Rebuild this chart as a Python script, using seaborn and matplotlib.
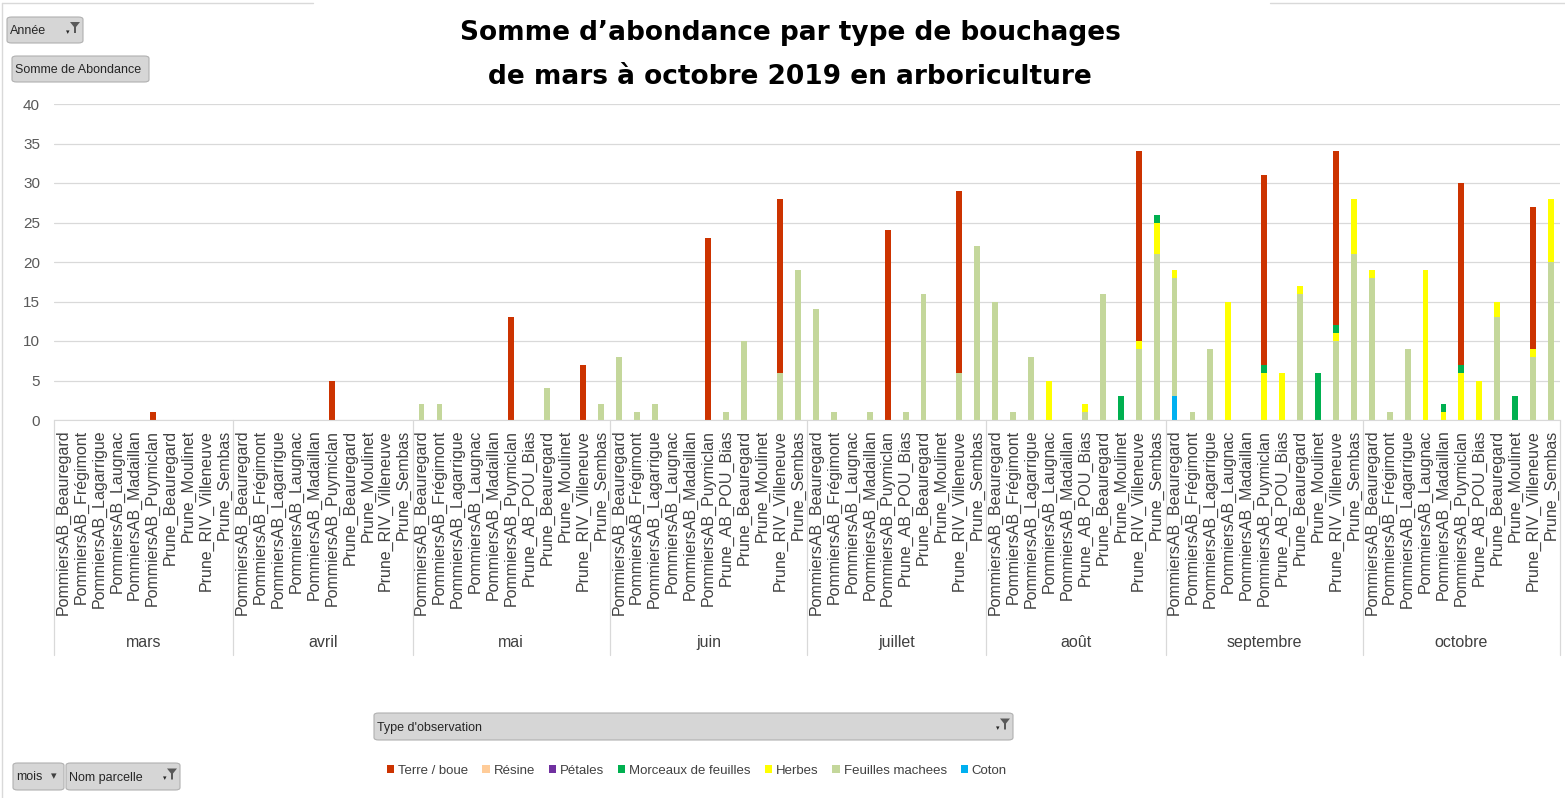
import numpy as np
import pandas as pd
import seaborn as sns
import matplotlib.pyplot as plt
import matplotlib.transforms as mtransforms
from matplotlib.patches import FancyBboxPatch, Patch, Polygon

# Categories: month groups and the parcels observed in each month
months = ['mars', 'avril', 'mai', 'juin', 'juillet', 'août', 'septembre', 'octobre']

parcels_mars = ['PommiersAB_Beauregard', 'PommiersAB_Frégimont', 'PommiersAB_Lagarrigue',
                'PommiersAB_Laugnac', 'PommiersAB_Madaillan', 'PommiersAB_Puymiclan',
                'Prune_Beauregard', 'Prune_Moulinet', 'Prune_RIV_Villeneuve', 'Prune_Sembas']
parcels_avril = parcels_mars
parcels_full = ['PommiersAB_Beauregard', 'PommiersAB_Frégimont', 'PommiersAB_Lagarrigue',
                'PommiersAB_Laugnac', 'PommiersAB_Madaillan', 'PommiersAB_Puymiclan',
                'Prune_AB_POU_Bias', 'Prune_Beauregard', 'Prune_Moulinet',
                'Prune_RIV_Villeneuve', 'Prune_Sembas']
parcels_juillet = ['PommiersAB_Beauregard', 'PommiersAB_Frégimont', 'PommiersAB_Laugnac',
                   'PommiersAB_Madaillan', 'PommiersAB_Puymiclan', 'Prune_AB_POU_Bias',
                   'Prune_Beauregard', 'Prune_Moulinet', 'Prune_RIV_Villeneuve', 'Prune_Sembas']
parcels_aout = ['PommiersAB_Beauregard', 'PommiersAB_Frégimont', 'PommiersAB_Lagarrigue',
                'PommiersAB_Laugnac', 'PommiersAB_Madaillan', 'Prune_AB_POU_Bias',
                'Prune_Beauregard', 'Prune_Moulinet', 'Prune_RIV_Villeneuve', 'Prune_Sembas']
parcels_by_month = [parcels_mars, parcels_avril, parcels_full, parcels_full,
                    parcels_juillet, parcels_aout, parcels_full, parcels_full]

# Legend order (Terre on top of the stack, Coton at the bottom)
types = ['Terre / boue', 'Résine', 'Pétales', 'Morceaux de feuilles', 'Herbes',
         'Feuilles machees', 'Coton']
colors = ['#CC3300', '#FFCC99', '#7030A0', '#00B050', '#FFFF00', '#C4D79B', '#00B0F0']

# Abondance per type, one line per month (mars .. octobre)
terre = [0, 0, 0, 0, 0, 1, 0, 0, 0, 0,
         0, 0, 0, 0, 0, 5, 0, 0, 0, 0,
         0, 0, 0, 0, 0, 13, 0, 0, 0, 7, 0,
         0, 0, 0, 0, 0, 23, 0, 0, 0, 22, 0,
         0, 0, 0, 0, 24, 0, 0, 0, 23, 0,
         0, 0, 0, 0, 0, 0, 0, 0, 24, 0,
         0, 0, 0, 0, 0, 24, 0, 0, 0, 22, 0,
         0, 0, 0, 0, 0, 23, 0, 0, 0, 18, 0]
resine = [0, 0, 0, 0, 0, 0, 0, 0, 0, 0,
          0, 0, 0, 0, 0, 0, 0, 0, 0, 0,
          0, 0, 0, 0, 0, 0, 0, 0, 0, 0, 0,
          0, 0, 0, 0, 0, 0, 0, 0, 0, 0, 0,
          0, 0, 0, 0, 0, 0, 0, 0, 0, 0,
          0, 0, 0, 0, 0, 0, 0, 0, 0, 0,
          0, 0, 0, 0, 0, 0, 0, 0, 0, 0, 0,
          0, 0, 0, 0, 0, 0, 0, 0, 0, 0, 0]
petales = resine
morceaux = [0, 0, 0, 0, 0, 0, 0, 0, 0, 0,
            0, 0, 0, 0, 0, 0, 0, 0, 0, 0,
            0, 0, 0, 0, 0, 0, 0, 0, 0, 0, 0,
            0, 0, 0, 0, 0, 0, 0, 0, 0, 0, 0,
            0, 0, 0, 0, 0, 0, 0, 0, 0, 0,
            0, 0, 0, 0, 0, 0, 0, 3, 0, 1,
            0, 0, 0, 0, 0, 1, 0, 0, 6, 1, 0,
            0, 0, 0, 0, 1, 1, 0, 0, 3, 0, 0]
herbes = [0, 0, 0, 0, 0, 0, 0, 0, 0, 0,
          0, 0, 0, 0, 0, 0, 0, 0, 0, 0,
          0, 0, 0, 0, 0, 0, 0, 0, 0, 0, 0,
          0, 0, 0, 0, 0, 0, 0, 0, 0, 0, 0,
          0, 0, 0, 0, 0, 0, 0, 0, 0, 0,
          0, 0, 0, 5, 0, 1, 0, 0, 1, 4,
          1, 0, 0, 15, 0, 6, 6, 1, 0, 1, 7,
          1, 0, 0, 19, 1, 6, 5, 2, 0, 1, 8]
feuilles = [0, 0, 0, 0, 0, 0, 0, 0, 0, 0,
            0, 0, 0, 0, 0, 0, 0, 0, 0, 0,
            2, 2, 0, 0, 0, 0, 0, 4, 0, 0, 2,
            8, 1, 2, 0, 0, 0, 1, 10, 0, 6, 19,
            14, 1, 0, 1, 0, 1, 16, 0, 6, 22,
            15, 1, 8, 0, 0, 1, 16, 0, 9, 21,
            15, 1, 9, 0, 0, 0, 0, 16, 0, 10, 21,
            18, 1, 9, 0, 0, 0, 0, 13, 0, 8, 20]
coton = [0, 0, 0, 0, 0, 0, 0, 0, 0, 0,
         0, 0, 0, 0, 0, 0, 0, 0, 0, 0,
         0, 0, 0, 0, 0, 0, 0, 0, 0, 0, 0,
         0, 0, 0, 0, 0, 0, 0, 0, 0, 0, 0,
         0, 0, 0, 0, 0, 0, 0, 0, 0, 0,
         0, 0, 0, 0, 0, 0, 0, 0, 0, 0,
         3, 0, 0, 0, 0, 0, 0, 0, 0, 0, 0,
         0, 0, 0, 0, 0, 0, 0, 0, 0, 0, 0]
values = [terre, resine, petales, morceaux, herbes, feuilles, coton]

# Long table for seaborn
labels = [p for plist in parcels_by_month for p in plist]
n = len(labels)
rows = []
for t, vals in zip(types, values):
    for i, v in enumerate(vals):
        rows.append({'pos': i, 'type': t, 'abondance': v})
df = pd.DataFrame(rows)

sns.set_style('white')
plt.rcParams['font.family'] = ['Liberation Sans', 'DejaVu Sans']

W, H = 1565, 798
fig = plt.figure(figsize=(W / 100, H / 100), dpi=100)


def fx(px):
    return px / W


def fy(py):
    return 1 - py / H


ax = fig.add_axes([fx(54), fy(420), fx(1560) - fx(54), fy(104) - fy(420)])

sns.histplot(data=df, x='pos', weights='abondance', hue='type', hue_order=types,
             palette=colors, multiple='stack', discrete=True, shrink=0.33,
             linewidth=0, alpha=1, legend=False, ax=ax)

ax.set_xlim(-0.5, n - 0.5)
ax.set_ylim(0, 40)
ax.set_yticks(range(0, 41, 5))
ax.yaxis.grid(True, color='#D9D9D9', linewidth=0.9)
ax.set_axisbelow(True)
for s in ['top', 'right', 'left']:
    ax.spines[s].set_visible(False)
ax.spines['bottom'].set_color('#D9D9D9')
ax.set_xlabel('')
ax.set_ylabel('')
ax.set_xticks(range(n))
ax.set_xticklabels(labels, rotation=90, fontsize=11.5, color='#404040')
ax.tick_params(axis='x', length=0, pad=7)
ax.tick_params(axis='y', length=0, pad=10, labelsize=11, labelcolor='#595959')

# month groups under the parcel labels
trans = mtransforms.blended_transform_factory(ax.transData, ax.transAxes)
start = 0
bounds = [-0.5]
for m, plist in zip(months, parcels_by_month):
    centre = start + (len(plist) - 1) / 2
    ax.text(centre, -0.703, m, transform=trans, ha='center', va='center',
            fontsize=11.5, color='#404040')
    start += len(plist)
    bounds.append(start - 0.5)
for b in bounds:
    ax.plot([b, b], [0, -0.745], transform=trans, clip_on=False,
            color='#D9D9D9', linewidth=0.9)

# title
fig.text(fx(790), fy(33), 'Somme d\u2019abondance par type de bouchages', ha='center',
         va='center', fontsize=19, fontweight='bold', color='black', family=['DejaVu Sans'])
fig.text(fx(790), fy(77), 'de mars à octobre 2019 en arboriculture', ha='center',
         va='center', fontsize=19, fontweight='bold', color='black', family=['DejaVu Sans'])


def funnel(xc, yc):
    # small filter glyph drawn in pixel coordinates
    pts = [(xc - 5, yc - 6), (xc + 5, yc - 6), (xc + 1, yc - 1), (xc + 1, yc + 5),
           (xc - 1, yc + 5), (xc - 1, yc - 1)]
    fig.patches.append(Polygon([(fx(px), fy(py)) for px, py in pts], closed=True,
                               transform=fig.transFigure, facecolor='#595959',
                               edgecolor='none'))
    fig.text(fx(xc - 7), fy(yc + 4), '\u25be', ha='center', va='center',
             fontsize=5, color='#262626', family=['DejaVu Sans'])


# pivot-table field buttons
def button(x0, y0, x1, y1, text, filt=False, arrow=False):
    box = FancyBboxPatch((fx(x0), fy(y1)), fx(x1) - fx(x0), fy(y0) - fy(y1),
                         boxstyle='round,pad=0,rounding_size=0.003',
                         transform=fig.transFigure, facecolor='#D6D6D6',
                         edgecolor='#B0B0B0', linewidth=0.8)
    fig.patches.append(box)
    fig.text(fx(x0 + 3), fy((y0 + y1) / 2 + 1), text, ha='left', va='center',
             fontsize=9, color='#262626')
    if filt:
        funnel(x1 - 8, (y0 + y1) / 2 - 2)
    if arrow:
        fig.text(fx(x1 - 10), fy((y0 + y1) / 2), '\u25be', ha='center', va='center',
                 fontsize=8, color='#404040', family=['DejaVu Sans'])


button(7, 17, 83, 43, 'Année', filt=True)
button(12, 56, 149, 82, 'Somme de Abondance')
button(374, 713, 1013, 740, "Type d'observation", filt=True)
button(13, 763, 64, 790, 'mois', arrow=True)
button(66, 763, 180, 790, 'Nom parcelle', filt=True)

# chart area border fragments
fig.add_artist(plt.Line2D([fx(2), fx(313)], [fy(3), fy(3)], color='#D9D9D9', linewidth=1))
fig.add_artist(plt.Line2D([fx(1270), fx(1565)], [fy(3), fy(3)], color='#D9D9D9', linewidth=1))
fig.add_artist(plt.Line2D([fx(2), fx(2)], [fy(3), fy(798)], color='#D9D9D9', linewidth=1))

# legend
handles = [Patch(facecolor=c, edgecolor='none') for c in colors]
fig.legend(handles, types, loc='center', bbox_to_anchor=(fx(697), fy(771)), ncol=7,
           frameon=False, fontsize=9.5, handlelength=0.55, handleheight=0.55,
           handletextpad=0.3, columnspacing=1.05, labelcolor='#404040')

fig.savefig('out.png', dpi=100)
